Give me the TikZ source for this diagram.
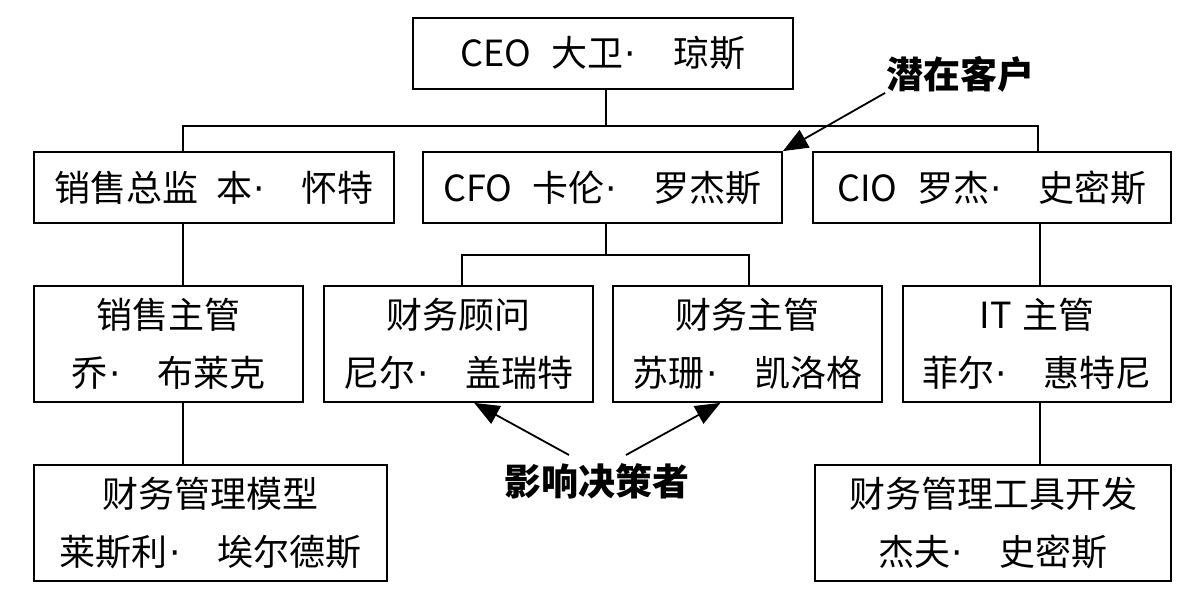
\documentclass[tikz,border=0pt]{standalone}
\usepackage{fontspec}
\setmainfont{Noto Sans CJK SC}[BoldFont={Noto Sans CJK SC Bold}]
\newfontfamily\latinf{DejaVu Sans}
\newfontfamily\heavy{Noto Sans CJK SC Black}
\usetikzlibrary{arrows.meta,calc}
\newcommand\dt{\makebox[1.38em][l]{\hspace{0.04em}{\latinf ·}}}
\begin{document}
\begin{tikzpicture}[x=1pt,y=-1pt,line width=1.8pt,
  box/.style={draw,fill=white,inner sep=0pt,minimum height=71pt,align=center,
    font=\fontsize{36}{58}\selectfont},
  tall/.style={box,minimum height=116pt},
  lbl/.style={inner sep=0pt,font=\fontsize{37}{44}\selectfont\heavy},
  arr/.style={-{Triangle[length=25pt,width=20pt]}}]
\useasboundingbox (0,0) rectangle (1201,614);
% level 1
\node[box,minimum width=380pt] (ceo) at (603,53.5) {CEO\hspace{0.55em}大卫\dt 琼斯};
% level 2
\node[box,minimum width=360pt] (sd) at (214,187.5) {销售总监\hspace{0.5em}本\dt 怀特};
\node[box,minimum width=359pt] (cfo) at (602.5,187.5) {CFO\hspace{0.55em}卡伦\dt 罗杰斯};
\node[box,minimum width=358pt] (cio) at (992,187.5) {CIO\hspace{0.55em}罗杰\dt 史密斯};
% level 3
\node[tall,minimum width=269pt] (ss) at (168.5,344) {销售主管\\乔\dt 布莱克};
\node[tall,minimum width=269pt] (fa) at (458.5,344) {财务顾问\\尼尔\dt 盖瑞特};
\node[tall,minimum width=269pt] (fs) at (747.5,344) {财务主管\\苏珊\dt 凯洛格};
\node[tall,minimum width=268pt] (it) at (1037,344) {IT\hspace{0.3em}主管\\菲尔\dt 惠特尼};
% level 4
\node[tall,minimum width=353pt] (fm) at (210.5,523) {财务管理模型\\莱斯利\dt 埃尔德斯};
\node[tall,minimum width=356pt] (ft) at (993,523) {财务管理工具开发\\杰夫\dt 史密斯};
% labels
\node[lbl] (pc) at (960,74) {潜在客户};
\node[lbl] (inf) at (597,481) {影响决策者};
% connectors
\coordinate (busL) at (183,126);
\coordinate (busR) at (1038,126);
\coordinate (midc) at (606,0);
\draw (ceo.south -| midc) -- (busL -| midc);
\draw (sd.north -| busL) -- (busL) -- (busR) -- (cio.north -| busR);
\draw (sd.south -| busL) -- (ss.north -| busL);
\draw (ss.south -| busL) -- (fm.north -| busL);
\coordinate (fbL) at (462,255);
\coordinate (fbR) at (749,255);
\draw (cfo.south -| midc) -- (fbL -| midc);
\draw (fa.north -| fbL) -- (fbL) -- (fbR) -- (fs.north -| fbR);
\coordinate (itc) at (1040,0);
\draw (cio.south -| itc) -- (it.north -| itc);
\draw (it.south -| itc) -- (ft.north -| itc);
% arrows
\draw[arr] (pc.south west) -- (cfo.north east);
\coordinate (infL) at (569,455);
\coordinate (infR) at (626,455);
\draw[arr] (infL) -- ($(fa.south west)!0.558!(fa.south east)$);
\draw[arr] (infR) -- ($(fs.south west)!0.4!(fs.south east)$);
\end{tikzpicture}
\end{document}
